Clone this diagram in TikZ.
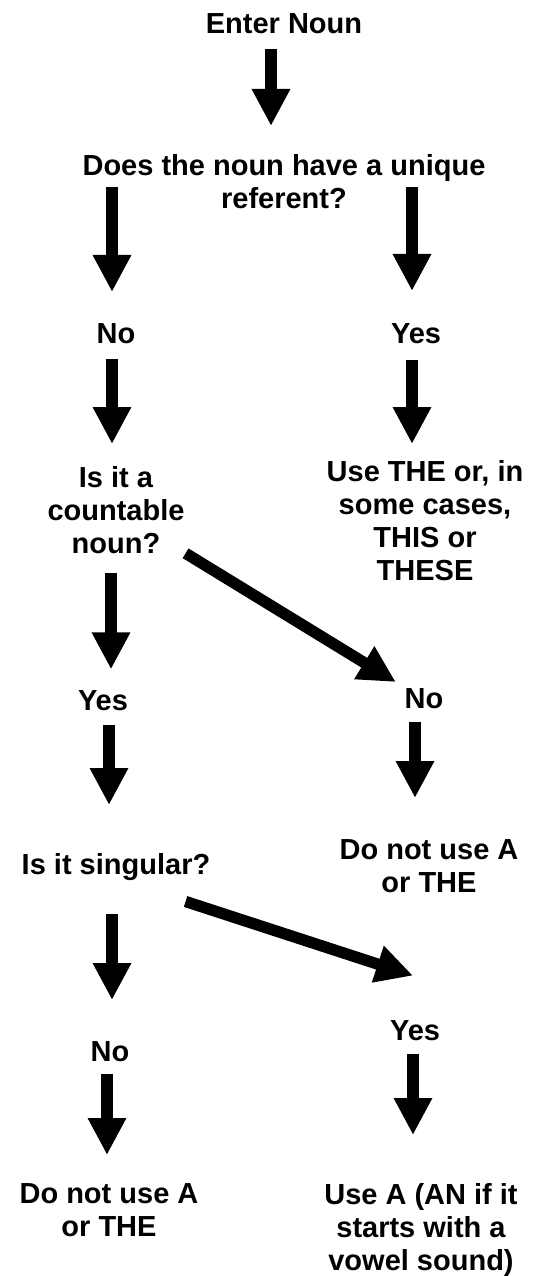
\documentclass[tikz,border=0pt]{standalone}
\usepackage{fontspec}
\setmainfont{Liberation Sans}
\usetikzlibrary{arrows.meta}
\begin{document}
\begin{tikzpicture}[x=0.75pt,y=-0.75pt,
  txt/.style={anchor=base,inner sep=0pt,align=center,font=\fontsize{21.75}{24.75}\selectfont\bfseries},
  arr/.style={line width=8.5pt,-{Triangle[width=27pt,length=27.75pt]}}]
\useasboundingbox (0,0) rectangle (542,1276);
% texts (anchor = baseline of the last line)
\node[txt] (enter) at (284,33.5) {Enter Noun};
\node[txt] (q1) at (284,209) {Does the noun have a unique\\referent?};
\node[txt] (no1) at (116,344) {No};
\node[txt] (yes1) at (416,344) {Yes};
\node[txt] (q2) at (116,553) {Is it a\\countable\\noun?};
\node[txt] (the) at (425,580) {Use THE or, in\\some cases,\\THIS or\\THESE};
\node[txt] (yes2) at (103,710) {Yes};
\node[txt] (no2) at (424,708) {No};
\node[txt] (q3) at (116,874) {Is it singular?};
\node[txt] (dnu1) at (429,892) {Do not use A\\or THE};
\node[txt] (no3) at (110,1061) {No};
\node[txt] (yes3) at (415,1040) {Yes};
\node[txt] (dnu2) at (109,1236) {Do not use A\\or THE};
\node[txt] (usea) at (421,1270) {Use A (AN if it\\starts with a\\vowel sound)};
% arrow end points
\coordinate (a1s) at (271,49);   \coordinate (a1e) at (271,126);
\coordinate (a2s) at (112,187);  \coordinate (a2e) at (112,292);
\coordinate (a3s) at (412,187);  \coordinate (a3e) at (412,291);
\coordinate (a4s) at (112,359);  \coordinate (a4e) at (112,444);
\coordinate (a5s) at (412,360);  \coordinate (a5e) at (412,444);
\coordinate (a6s) at (185.6,553.3); \coordinate (a6e) at (395.8,682);
\coordinate (a7s) at (111,573);  \coordinate (a7e) at (111,669.4);
\coordinate (a8s) at (109,725);  \coordinate (a8e) at (109,805);
\coordinate (a9s) at (415,722);  \coordinate (a9e) at (415,798);
\coordinate (a10s) at (185.6,901.5); \coordinate (a10e) at (413,975.6);
\coordinate (a11s) at (112,914); \coordinate (a11e) at (112,1000);
\coordinate (a12s) at (107,1074); \coordinate (a12e) at (107,1155);
\coordinate (a13s) at (413,1054); \coordinate (a13e) at (413,1135);
% arrows
\draw[arr] (a1s) -- (a1e);
\draw[arr] (a2s) -- (a2e);
\draw[arr] (a3s) -- (a3e);
\draw[arr] (a4s) -- (a4e);
\draw[arr] (a5s) -- (a5e);
\draw[arr] (a6s) -- (a6e);
\draw[arr] (a7s) -- (a7e);
\draw[arr] (a8s) -- (a8e);
\draw[arr] (a9s) -- (a9e);
\draw[arr] (a10s) -- (a10e);
\draw[arr] (a11s) -- (a11e);
\draw[arr] (a12s) -- (a12e);
\draw[arr] (a13s) -- (a13e);
\end{tikzpicture}
\end{document}
